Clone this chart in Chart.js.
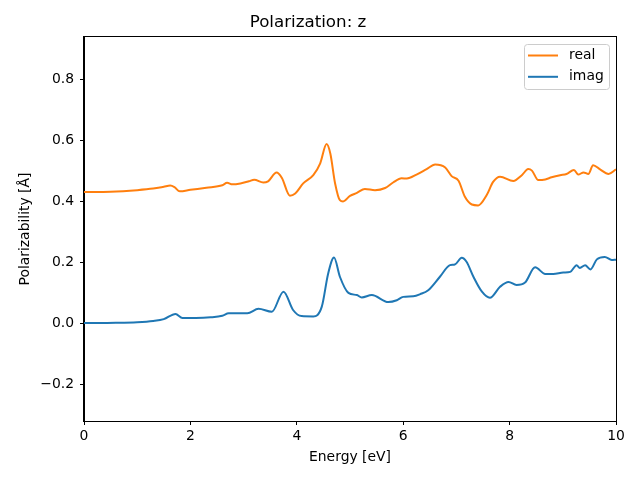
<!DOCTYPE html>
<html>
<head>
<meta charset="utf-8">
<script src="https://cdn.jsdelivr.net/npm/chart.js@4/dist/chart.umd.min.js"></script>
<style>
html,body{margin:0;padding:0;background:#fff;}
#wrap{width:640px;height:480px;}
</style>
</head>
<body>
<div id="wrap"><canvas id="c" width="640" height="480"></canvas></div>
<script>
const chartTitle = "Polarization: z";
const xLabel = "Energy [eV]";
const yLabel = "Polarizability [Å]";
const seriesNames = ["real", "imag"];
const xTicks = [0, 2, 4, 6, 8, 10];
const yTicks = [-0.2, 0.0, 0.2, 0.4, 0.6, 0.8];

const realEnergy = [0, 0.5, 1.0, 1.3, 1.5, 1.62, 1.7, 1.8, 2.0, 2.3, 2.6, 2.69, 2.79, 2.94, 3.1, 3.2, 3.37, 3.46, 3.62, 3.72, 3.87, 3.97, 4.12, 4.31, 4.44, 4.56, 4.63, 4.72, 4.81, 4.87, 5.0, 5.13, 5.28, 5.47, 5.66, 5.81, 5.97, 6.07, 6.25, 6.44, 6.6, 6.79, 6.91, 7.04, 7.16, 7.29, 7.41, 7.57, 7.69, 7.82, 8.07, 8.23, 8.35, 8.42, 8.54, 8.67, 8.79, 8.95, 9.07, 9.21, 9.29, 9.39, 9.48, 9.57, 9.7, 9.86, 10];
const realValues = [0.430, 0.431, 0.436, 0.441, 0.447, 0.451, 0.446, 0.432, 0.437, 0.444, 0.452, 0.460, 0.455, 0.458, 0.465, 0.470, 0.461, 0.465, 0.494, 0.476, 0.418, 0.425, 0.458, 0.485, 0.524, 0.587, 0.556, 0.458, 0.403, 0.399, 0.417, 0.427, 0.440, 0.436, 0.443, 0.461, 0.475, 0.474, 0.487, 0.505, 0.520, 0.510, 0.482, 0.467, 0.414, 0.389, 0.386, 0.420, 0.463, 0.480, 0.466, 0.485, 0.505, 0.500, 0.469, 0.471, 0.478, 0.485, 0.489, 0.502, 0.487, 0.494, 0.489, 0.518, 0.504, 0.489, 0.504];

const imagEnergy = [0, 0.6, 1.0, 1.3, 1.5, 1.72, 1.85, 2.1, 2.38, 2.6, 2.72, 3.07, 3.28, 3.53, 3.75, 3.93, 4.09, 4.31, 4.47, 4.59, 4.70, 4.81, 4.97, 5.13, 5.22, 5.41, 5.72, 5.88, 6.0, 6.19, 6.32, 6.47, 6.69, 6.88, 6.97, 7.1, 7.19, 7.32, 7.48, 7.63, 7.82, 7.98, 8.13, 8.29, 8.48, 8.67, 8.82, 9.01, 9.14, 9.26, 9.32, 9.42, 9.52, 9.64, 9.79, 9.92, 10];
const imagValues = [0.000, 0.001, 0.003, 0.007, 0.013, 0.030, 0.017, 0.017, 0.019, 0.024, 0.032, 0.032, 0.047, 0.037, 0.103, 0.043, 0.023, 0.022, 0.054, 0.163, 0.215, 0.152, 0.099, 0.092, 0.084, 0.092, 0.069, 0.075, 0.086, 0.088, 0.095, 0.108, 0.152, 0.190, 0.192, 0.214, 0.201, 0.152, 0.103, 0.083, 0.119, 0.135, 0.125, 0.133, 0.183, 0.161, 0.161, 0.166, 0.168, 0.190, 0.181, 0.190, 0.176, 0.209, 0.217, 0.207, 0.208];

const colors = ["#ff7f0e", "#1f77b4"];
const FONT = "'DejaVu Sans', sans-serif";
const FS = 13.9;

function toPts(xs, ys) { return xs.map((x, i) => ({x: x, y: ys[i]})); }

const frameAndLegend = {
  id: 'frameAndLegend',
  afterDatasetsDraw(chart) {
    const ctx = chart.ctx, a = chart.chartArea;
    ctx.save();
    ctx.strokeStyle = '#000';
    ctx.lineWidth = 1;
    ctx.strokeRect(Math.round(a.left) - 0.5, Math.round(a.top) - 0.5, Math.round(a.right - a.left) + 1, Math.round(a.bottom - a.top) + 1);
    // legend
    const bx = 524.5, by = 44.5, bw = 85, bh = 45, r = 3;
    ctx.beginPath();
    ctx.moveTo(bx + r, by);
    ctx.lineTo(bx + bw - r, by);
    ctx.quadraticCurveTo(bx + bw, by, bx + bw, by + r);
    ctx.lineTo(bx + bw, by + bh - r);
    ctx.quadraticCurveTo(bx + bw, by + bh, bx + bw - r, by + bh);
    ctx.lineTo(bx + r, by + bh);
    ctx.quadraticCurveTo(bx, by + bh, bx, by + bh - r);
    ctx.lineTo(bx, by + r);
    ctx.quadraticCurveTo(bx, by, bx + r, by);
    ctx.closePath();
    ctx.fillStyle = 'rgba(255,255,255,0.8)';
    ctx.fill();
    ctx.strokeStyle = '#cccccc';
    ctx.stroke();
    chart.data.datasets.forEach((ds, i) => {
      const y = 55.5 + i * 21.3;
      ctx.beginPath();
      ctx.strokeStyle = ds.borderColor;
      ctx.lineWidth = 2;
      ctx.moveTo(528, y);
      ctx.lineTo(558, y);
      ctx.stroke();
      ctx.fillStyle = '#000';
      ctx.font = FS + "px " + FONT;
      ctx.textAlign = 'left';
      ctx.textBaseline = 'middle';
      ctx.fillText(ds.label, 569, y);
    });
    ctx.restore();
  }
};

const fmtY = v => (Math.abs(v) < 1e-9 ? "0.0" : v.toFixed(1)).replace('-', '\u2212');

new Chart(document.getElementById('c'), {
  type: 'line',
  data: {
    datasets: [
      {label: seriesNames[0], data: toPts(realEnergy, realValues), borderColor: colors[0], backgroundColor: colors[0], borderWidth: 2, pointRadius: 0, cubicInterpolationMode: 'monotone', fill: false},
      {label: seriesNames[1], data: toPts(imagEnergy, imagValues), borderColor: colors[1], backgroundColor: colors[1], borderWidth: 2, pointRadius: 0, cubicInterpolationMode: 'monotone', fill: false}
    ]
  },
  options: {
    responsive: false,
    devicePixelRatio: 1,
    animation: false,
    layout: {padding: {left: 0, right: 24, top: 0, bottom: 0}},
    plugins: {
      legend: {display: false},
      tooltip: {enabled: false},
      title: {display: true, text: chartTitle, color: '#000', font: {family: FONT, size: 16.7, weight: 'normal', lineHeight: 1.2}, padding: {top: 13, bottom: 4}}
    },
    scales: {
      x: {
        type: 'linear', min: 0, max: 10,
        afterBuildTicks: s => { s.ticks = xTicks.map(v => ({value: v})); },
        afterFit: s => { s.height = 59; },
        ticks: {color: '#000', font: {family: FONT, size: FS}, padding: 3, maxRotation: 0, callback: v => String(v)},
        grid: {display: true, drawOnChartArea: false, drawTicks: true, tickLength: 4, color: '#000'},
        border: {display: true, color: '#000', width: 1},
        title: {display: true, text: xLabel, color: '#000', font: {family: FONT, size: FS, lineHeight: 1.2}, padding: {top: 0, bottom: 14.7}}
      },
      y: {
        type: 'linear', min: -0.321, max: 0.938,
        afterBuildTicks: s => { s.ticks = yTicks.map(v => ({value: v})); },
        afterFit: s => { s.width = 84; },
        ticks: {color: '#000', font: {family: FONT, size: FS}, padding: 6, callback: v => fmtY(v)},
        grid: {display: true, drawOnChartArea: false, drawTicks: true, tickLength: 4, color: '#000'},
        border: {display: true, color: '#000', width: 1},
        title: {display: true, text: yLabel, color: '#000', font: {family: FONT, size: FS, lineHeight: 1.2}, padding: {top: 16.7, bottom: 0}}
      }
    }
  },
  plugins: [frameAndLegend]
});
</script>
</body>
</html>
